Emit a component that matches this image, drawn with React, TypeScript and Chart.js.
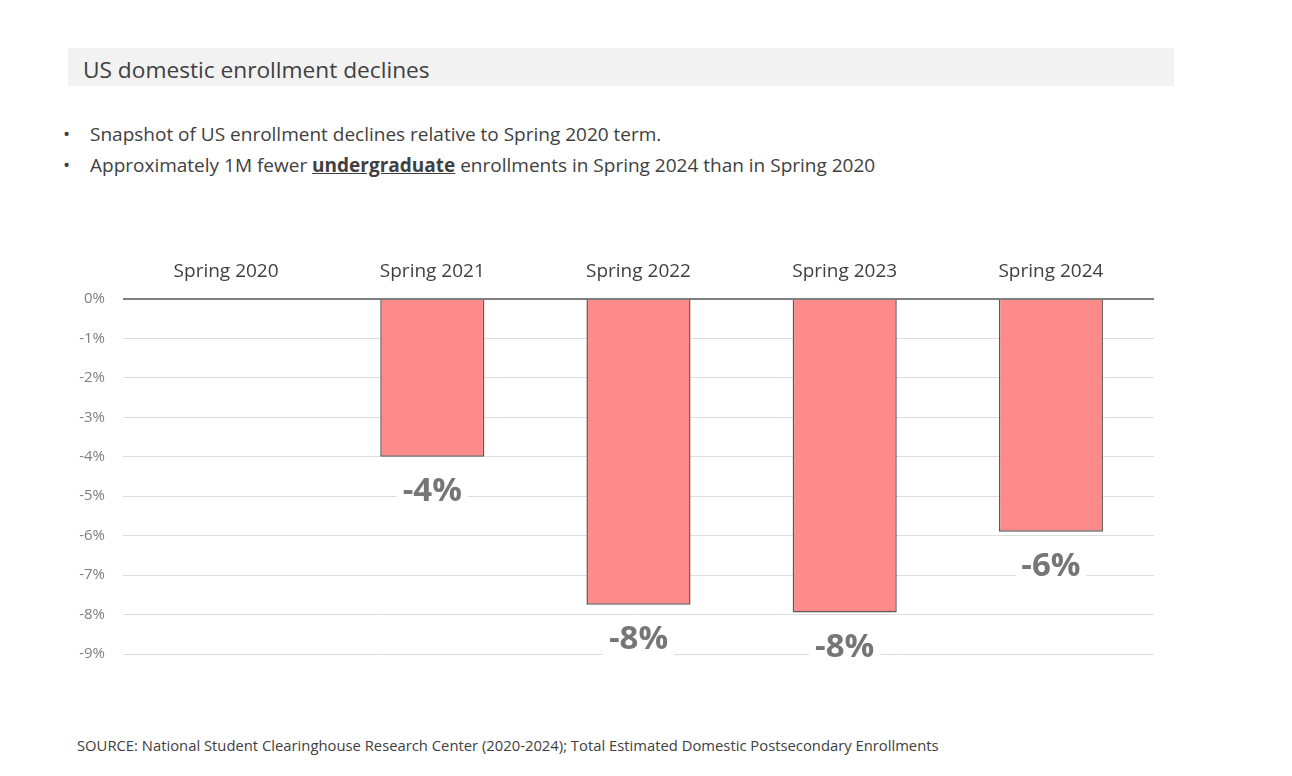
import React, { useEffect, useRef } from "react";
import { Chart, registerables } from "chart.js";

Chart.register(...registerables);

const categories = ["Spring 2020", "Spring 2021", "Spring 2022", "Spring 2023", "Spring 2024"];
const declines = [0, -4.0, -7.75, -7.95, -5.9];
const barLabels = ["", "-4%", "-8%", "-8%", "-6%"];
const yMin = -9;
const yMax = 0;

const FONT = "'Open Sans', Lato, sans-serif";

const labelPlugin = {
  id: "barLabels",
  afterDatasetsDraw(chart: any) {
    const ctx = chart.ctx;
    const meta = chart.getDatasetMeta(0);
    ctx.save();
    ctx.font = `bold 33px ${FONT}`;
    ctx.textAlign = "center";
    ctx.textBaseline = "middle";
    meta.data.forEach((bar: any, i: number) => {
      const txt = barLabels[i];
      if (!txt) return;
      const x = bar.x;
      const y = bar.y + 35;
      const w = ctx.measureText(txt).width + 12;
      ctx.fillStyle = "#ffffff";
      ctx.fillRect(x - w / 2, y - 19, w, 38);
      ctx.fillStyle = "#767676";
      ctx.fillText(txt, x, y);
    });
    ctx.restore();
  },
};

function BarChart() {
  const ref = useRef<HTMLCanvasElement | null>(null);
  useEffect(() => {
    if (!ref.current) return;
    const chart = new Chart(ref.current, {
      type: "bar",
      data: {
        labels: categories,
        datasets: [
          {
            data: declines,
            backgroundColor: "#ff8a8a",
            borderColor: "#5a5a5a",
            borderWidth: 1.5,
            barPercentage: 0.505,
            categoryPercentage: 1,
          },
        ],
      },
      options: {
        animation: false,
        responsive: false,
        maintainAspectRatio: false,
        layout: { padding: { left: 0, right: 16, top: 0, bottom: 25 } },
        plugins: { legend: { display: false }, tooltip: { enabled: false } },
        scales: {
          x: {
            position: "top",
            grid: { display: false, drawTicks: false },
            border: { display: false },
            ticks: {
              color: "#404040",
              font: { family: FONT, size: 19 },
              padding: 16,
            },
            afterFit(scale: any) {
              scale.height = 48;
            },
          },
          y: {
            min: yMin,
            max: yMax,
            grid: {
              drawTicks: false,
              color: (c: any) => (c.tick && c.tick.value === 0 ? "#7f7f7f" : "#dedede"),
              lineWidth: (c: any) => (c.tick && c.tick.value === 0 ? 2 : 1),
            },
            border: { display: false },
            ticks: {
              stepSize: 1,
              color: "#7f7f7f",
              font: { family: FONT, size: 15 },
              padding: 18,
              callback: (v: any) => `${v}%`,
            },
            afterFit(scale: any) {
              scale.width = 83;
            },
          },
        },
      },
      plugins: [labelPlugin],
    });
    return () => chart.destroy();
  }, []);
  return <canvas ref={ref} width={1130} height={430} style={{ position: "absolute", left: 40, top: 251, width: 1130, height: 430 }} />;
}

export default function App() {
  const text: React.CSSProperties = { position: "absolute", fontFamily: FONT, color: "#404040", whiteSpace: "nowrap" };
  return (
    <div style={{ position: "absolute", left: 0, top: 0, width: 1292, height: 776, background: "#fff", overflow: "hidden" }}>
      <div style={{ position: "absolute", left: 68, top: 48, width: 1106, height: 38, background: "#f2f2f2" }} />
      <div style={{ ...text, left: 83, top: 55, fontSize: 22.7, lineHeight: "30px" }}>US domestic enrollment declines</div>
      <div style={{ ...text, left: 63, top: 121, fontSize: 19, lineHeight: "26px" }}>•</div>
      <div style={{ ...text, left: 90, top: 121, fontSize: 19, lineHeight: "26px" }}>
        Snapshot of US enrollment declines relative to Spring 2020 term.
      </div>
      <div style={{ ...text, left: 63, top: 152, fontSize: 19, lineHeight: "26px" }}>•</div>
      <div style={{ ...text, left: 90, top: 152, fontSize: 19, lineHeight: "26px" }}>
        Approximately 1M fewer <b style={{ textDecoration: "underline" }}>undergraduate</b> enrollments in Spring 2024 than in Spring 2020
      </div>
      <BarChart />
      <div style={{ ...text, left: 77, top: 735, fontSize: 14.8, lineHeight: "20px" }}>
        SOURCE: National Student Clearinghouse Research Center (2020-2024); Total Estimated Domestic Postsecondary Enrollments
      </div>
    </div>
  );
}
